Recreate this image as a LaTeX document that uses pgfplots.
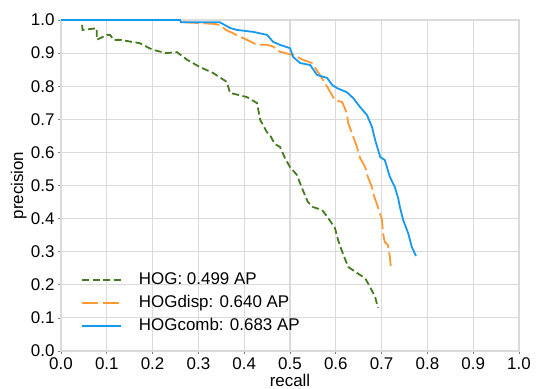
\documentclass[border=0pt]{standalone}
\usepackage{fontspec}
\setmainfont{Liberation Sans}
\usepackage{pgfplots}
\pgfplotsset{compat=1.18}
\definecolor{cgreen}{HTML}{467A1F}
\definecolor{corange}{HTML}{FF9933}
\definecolor{cblue}{HTML}{1899F0}
\definecolor{cgrid}{HTML}{DADADA}
\begin{document}
\begin{tikzpicture}
\path[use as bounding box] (-61bp,-38bp) rectangle (475bp,351bp);
\begin{axis}[
  at={(0,0)}, anchor=south west,
  scale only axis, width=458bp, height=331bp,
  xmin=0, xmax=1, ymin=0, ymax=1,
  xtick={0,0.1,0.2,0.3,0.4,0.5,0.6,0.7,0.8,0.9,1},
  ytick={0,0.1,0.2,0.3,0.4,0.5,0.6,0.7,0.8,0.9,1},
  /pgf/number format/.cd, fixed, fixed zerofill, precision=1, assume math mode=true,
  /pgfplots/.cd,
  grid=major,
  grid style={cgrid, line width=1.1bp},
  axis line style={cgrid, line width=1.1bp},
  tick align=outside, tick pos=left,
  major tick length=3bp,
  tick style={gray, line width=0.8bp},
  tick label style={font=\fontsize{17}{20}\selectfont},
  label style={font=\fontsize{17}{20}\selectfont},
  xlabel={recall}, ylabel={precision},
  xlabel style={at={(axis description cs:0.5,-0.088)}, anchor=center},
  ylabel style={at={(axis description cs:-0.092,0.5)}, anchor=center, rotate=0},
  legend cell align=left,
  legend style={at={(20bp,16bp)}, anchor=south west, draw=none, fill=none,
    inner sep=0pt, font=\fontsize{17}{20}\selectfont, row sep=5.5bp,
    nodes={inner sep=1bp, text height=12bp, text depth=3.5bp},
    /tikz/every odd column/.append style={column sep=16bp}},
  legend image code/.code={\draw[#1] (0bp,0bp) -- (39bp,0bp);},
]
\addplot[cgreen, line width=1.8bp, dash pattern=on 7bp off 3.5bp] coordinates {
(0.046,0.985) (0.047,0.97) (0.078,0.975) (0.078,0.94) (0.1,0.955) (0.107,0.955) (0.115,0.94) (0.13,0.94) (0.15,0.935) (0.172,0.93) (0.2,0.91) (0.23,0.9) (0.253,0.903) (0.275,0.88) (0.303,0.858) (0.332,0.84) (0.362,0.813) (0.369,0.78) (0.406,0.767) (0.428,0.749) (0.435,0.698) (0.45,0.66) (0.456,0.653) (0.467,0.625) (0.478,0.617) (0.49,0.58) (0.5,0.556) (0.515,0.532) (0.528,0.486) (0.539,0.45) (0.55,0.435) (0.57,0.426) (0.583,0.402) (0.598,0.372) (0.605,0.335) (0.614,0.3) (0.627,0.254) (0.646,0.236) (0.664,0.22) (0.675,0.193) (0.686,0.163) (0.692,0.13)
};
\addlegendentry{HOG: 0.499 AP}
\addplot[corange, line width=1.8bp, dash pattern=on 16bp off 4.5bp] coordinates {
(0,1) (0.265,1) (0.27,0.993) (0.31,0.99) (0.335,0.988) (0.347,0.985) (0.36,0.97) (0.376,0.96) (0.39,0.95) (0.406,0.94) (0.428,0.925) (0.45,0.925) (0.463,0.92) (0.478,0.904) (0.507,0.894) (0.528,0.88) (0.548,0.87) (0.561,0.843) (0.572,0.819) (0.583,0.794) (0.598,0.758) (0.614,0.752) (0.624,0.719) (0.627,0.689) (0.635,0.659) (0.646,0.617) (0.653,0.583) (0.664,0.556) (0.67,0.526) (0.679,0.495) (0.683,0.47) (0.692,0.435) (0.701,0.396) (0.703,0.356) (0.707,0.329) (0.714,0.32) (0.718,0.284) (0.72,0.257)
};
\addlegendentry{HOGdisp: 0.640 AP}
\addplot[cblue, line width=1.8bp] coordinates {
(0,1) (0.26,1) (0.262,0.993) (0.347,0.993) (0.369,0.976) (0.384,0.97) (0.42,0.964) (0.45,0.955) (0.463,0.934) (0.478,0.925) (0.5,0.915) (0.507,0.888) (0.522,0.87) (0.544,0.864) (0.559,0.834) (0.581,0.825) (0.592,0.804) (0.603,0.794) (0.624,0.782) (0.638,0.764) (0.653,0.737) (0.668,0.713) (0.679,0.677) (0.686,0.637) (0.697,0.586) (0.707,0.577) (0.718,0.526) (0.729,0.495) (0.736,0.462) (0.74,0.435) (0.747,0.396) (0.758,0.356) (0.766,0.314) (0.775,0.287)
};
\addlegendentry{HOGcomb: 0.683 AP}
\end{axis}
\end{tikzpicture}
\end{document}
